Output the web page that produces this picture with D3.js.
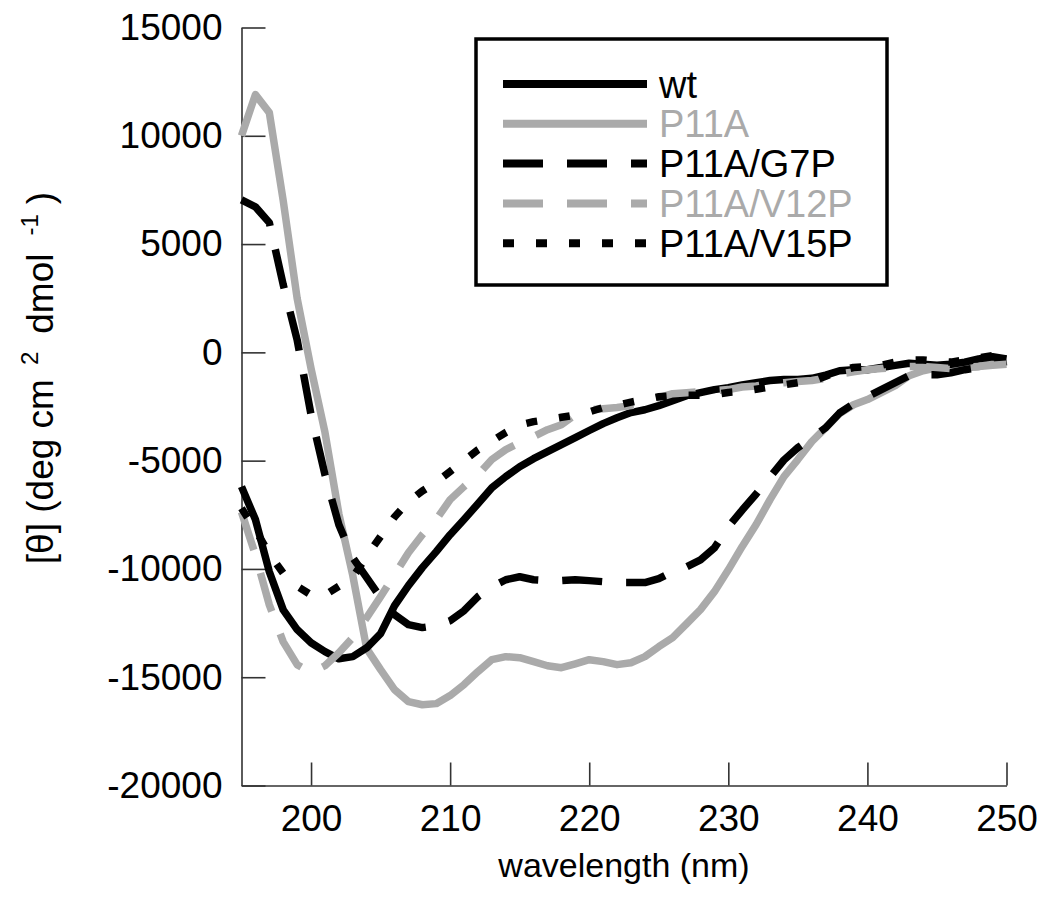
<!DOCTYPE html>
<html><head><meta charset="utf-8">
<script src="https://cdn.jsdelivr.net/npm/d3@7"></script>
<style>
html,body{margin:0;padding:0;background:#fff;}
svg{display:block;font-family:"Liberation Sans",Arial,sans-serif;}
</style></head>
<body><svg id="chart" width="1050" height="903"></svg>
<script>
// wavelength (nm), 1 nm steps
const wavelength = d3.range(195, 251);
const seriesNames = ["wt", "P11A", "P11A/G7P", "P11A/V12P", "P11A/V15P"];
const wt = [-6200,-7720,-10130,-11890,-12800,-13410,-13820,-14150,-14050,-13640,-12990,-11700,-10770,-9940,-9200,-8420,-7720,-6990,-6250,-5740,-5280,-4910,-4580,-4260,-3940,-3610,-3290,-3020,-2780,-2650,-2460,-2230,-2000,-1860,-1720,-1630,-1500,-1400,-1300,-1250,-1250,-1200,-1050,-850,-800,-800,-700,-600,-500,-550,-600,-550,-450,-300,-200,-300];
const p11a = [10000,11900,11070,7000,2500,-750,-3690,-7450,-10300,-13680,-14650,-15570,-16130,-16270,-16220,-15850,-15340,-14740,-14190,-14050,-14100,-14280,-14470,-14560,-14380,-14190,-14280,-14420,-14330,-14050,-13590,-13170,-12530,-11880,-11050,-10040,-8960,-7950,-6800,-5740,-4950,-4120,-3480,-2830,-2420,-2180,-1860,-1540,-1080,-850,-710,-660,-710,-660,-480,-340];
const g7p = [7040,6720,5990,3120,580,-2880,-5650,-7960,-9480,-10400,-11330,-12110,-12570,-12710,-12620,-12390,-11930,-11280,-10820,-10500,-10360,-10500,-10540,-10540,-10500,-10540,-10590,-10630,-10630,-10630,-10450,-10130,-9900,-9580,-9030,-8060,-7280,-6540,-5750,-4970,-4400,-3940,-3480,-2800,-2380,-2050,-1720,-1400,-1080,-1030,-1030,-940,-800,-700,-570,-430];
const v12p = [-7370,-9350,-11660,-13370,-14420,-14790,-14470,-13870,-13170,-12250,-11280,-10270,-9250,-8420,-7720,-6800,-6200,-5650,-4950,-4490,-4170,-3890,-3570,-3340,-2880,-2650,-2600,-2550,-2460,-2320,-2090,-1910,-1860,-1810,-1770,-1720,-1600,-1550,-1450,-1400,-1350,-1300,-1200,-1000,-900,-800,-750,-700,-650,-650,-700,-750,-700,-650,-600,-550];
const v15p = [-7200,-8200,-9300,-10200,-10800,-11200,-11200,-10800,-10400,-9400,-8500,-7600,-6900,-6400,-6000,-5500,-5000,-4500,-4100,-3700,-3350,-3200,-3100,-3000,-2900,-2750,-2550,-2450,-2300,-2170,-2050,-2000,-1980,-1980,-1950,-1850,-1800,-1700,-1600,-1500,-1400,-1350,-1100,-850,-700,-650,-600,-450,-350,-350,-400,-450,-350,-250,-150,-300];
const xTicks = [200, 210, 220, 230, 240, 250];
const yTicks = [15000, 10000, 5000, 0, -5000, -10000, -15000, -20000];

const GRAY = "#aaaaaa";
const styles = [
  {color:"#000", dash:null},
  {color:GRAY, dash:null},
  {color:"#000", dash:"40,24"},
  {color:GRAY, dash:"40,24"},
  {color:"#000", dash:"11,22"}
];
const seriesData = [wt, p11a, g7p, v12p, v15p];

const svg = d3.select("#chart");
const x = d3.scaleLinear().domain([195, 250]).range([241.5, 1006.5]);
const y = d3.scaleLinear().domain([-20000, 15000]).range([785.5, 27.5]);

const fs = 37;
const fmt = d => String(d);
const gx = svg.append("g").attr("transform", "translate(0,785.5)")
  .call(d3.axisBottom(x).tickValues(xTicks).tickSize(-23).tickSizeOuter(0).tickPadding(19).tickFormat(fmt));
const gy = svg.append("g").attr("transform", "translate(241.5,0)")
  .call(d3.axisLeft(y).tickValues(yTicks).tickSize(-24).tickSizeOuter(0).tickPadding(19).tickFormat(fmt));
[gx, gy].forEach(g => {
  g.selectAll("path.domain").attr("stroke", "#333").attr("stroke-width", 1.6);
  g.selectAll(".tick line").attr("stroke", "#333").attr("stroke-width", 1.6);
  g.selectAll(".tick text").attr("font-size", fs).attr("fill", "#000")
    .attr("font-family", '"Liberation Sans",Arial,sans-serif');
});

const line = d3.line().x((d, i) => x(wavelength[i])).y(d => y(d)).curve(d3.curveLinear);
const order = [1, 0, 2, 3, 4];
order.forEach(k => {
  svg.append("path").datum(seriesData[k])
    .attr("d", line).attr("fill", "none")
    .attr("stroke", styles[k].color).attr("stroke-width", 7.5)
    .attr("stroke-linejoin", "round")
    .attr("stroke-dasharray", styles[k].dash);
});

// legend
const lg = svg.append("g");
lg.append("rect").attr("x", 476).attr("y", 39).attr("width", 411).attr("height", 246)
  .attr("fill", "#fff").attr("stroke", "#000").attr("stroke-width", 3.5);
seriesNames.forEach((n, i) => {
  const yy = 84 + i * 39.8;
  lg.append("line").attr("x1", 503).attr("x2", 647).attr("y1", yy).attr("y2", yy)
    .attr("stroke", styles[i].color).attr("stroke-width", 8).attr("stroke-dasharray", styles[i].dash);
  lg.append("text").attr("x", 659).attr("y", yy).attr("dy", "0.36em")
    .attr("font-size", 38).attr("fill", i === 1 || i === 3 ? GRAY : "#000").text(n);
});

// axis titles
svg.append("text").attr("x", 624).attr("y", 877).attr("text-anchor", "middle")
  .attr("font-size", 34).text("wavelength (nm)");
const yt = svg.append("text").attr("transform", "translate(53,378) rotate(-90)")
  .attr("text-anchor", "middle").attr("font-size", 37);
yt.append("tspan").text("[θ] (deg cm");
yt.append("tspan").attr("font-size", 24).attr("dy", -15).attr("dx", 14).text("2");
yt.append("tspan").attr("dy", 15).attr("dx", 18).text("dmol");
yt.append("tspan").attr("font-size", 24).attr("dy", -15).attr("dx", 18).text("-1");
yt.append("tspan").attr("dy", 15).attr("dx", 10).text(")");
</script></body></html>
